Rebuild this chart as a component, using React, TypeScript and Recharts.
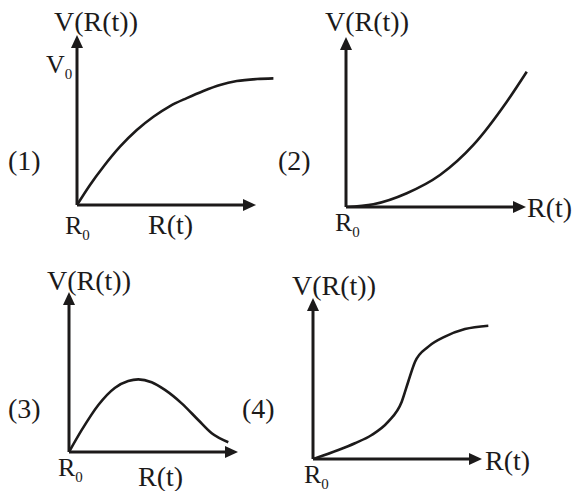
import { Line, LineChart, ReferenceLine, XAxis, YAxis } from "recharts"

// values (arbitrary units, axes run 0..10)
const r1 = [0, 0.65, 1.32, 2.15, 2.99, 3.82, 4.65, 5.49, 6.32, 7.15, 7.99, 8.99, 9.82]
const v1 = [0, 1.18, 2.25, 3.43, 4.41, 5.19, 5.82, 6.29, 6.71, 7.06, 7.29, 7.41, 7.45]

const r2 = [0, 1.37, 3.04, 4.7, 6.37, 8.04, 9.04]
const v2 = [0, 0.16, 0.81, 1.88, 3.65, 6.19, 7.96]

const r3 = [0, 0.71, 1.63, 2.56, 3.29, 3.85, 4.59, 5.33, 6.26, 7.18, 7.93, 8.85]
const v3 = [0, 1.38, 2.94, 4.02, 4.44, 4.54, 4.36, 3.88, 3.04, 2.0, 1.17, 0.61]

const r4 = [0, 1.41, 2.33, 3.26, 4.18, 4.93, 5.29, 5.67, 6.41, 7.33, 8.44, 9.74]
const v4 = [0, 0.56, 0.98, 1.49, 2.32, 3.56, 4.8, 6.04, 6.98, 7.6, 8.07, 8.28]

const xAxisEnd = [8.95, 9.0, 9.39, 9.39]
const panelNames = ["(1)", "(2)", "(3)", "(4)"]

const W = 575
const H = 491
const INK = "#1c1a1a"
const FONT = "'Liberation Serif', 'Times New Roman', serif"

const toRows = (r: number[], v: number[]) => r.map((x, i) => ({ r: x, v: v[i] }))

type Layout = {
  box: { x: number; y: number; w: number; h: number }
  title: { dx: number; dy: number }
  origin: { dx: number; dy: number }
  xLabel: { dx: number; dy: number; atTip: boolean }
  name: { dx: number; dy: number }
  v0?: { dx: number; dy: number }
}

const layouts: Layout[] = [
  {
    box: { x: 77, y: 35, w: 200, h: 170 },
    title: { dx: -23, dy: -4 },
    origin: { dx: -12, dy: 29 },
    xLabel: { dx: 71, dy: 29, atTip: false },
    name: { dx: -69, dy: -35 },
    v0: { dx: -31, dy: -132 },
  },
  {
    box: { x: 346, y: 37, w: 200, h: 170 },
    title: { dx: -21, dy: -6 },
    origin: { dx: -11, dy: 24 },
    xLabel: { dx: 1, dy: 10, atTip: true },
    name: { dx: -68, dy: -37 },
  },
  {
    box: { x: 69, y: 292, w: 180, h: 160 },
    title: { dx: -22, dy: -2 },
    origin: { dx: -11, dy: 24 },
    xLabel: { dx: 69, dy: 34, atTip: false },
    name: { dx: -61, dy: -34 },
  },
  {
    box: { x: 313, y: 298, w: 180, h: 161 },
    title: { dx: -21, dy: -3 },
    origin: { dx: -9, dy: 24 },
    xLabel: { dx: 3, dy: 11, atTip: true },
    name: { dx: -71, dy: -41 },
  },
]

const datasets = [toRows(r1, v1), toRows(r2, v2), toRows(r3, v3), toRows(r4, v4)]

const Sub = ({ x, y, main, sub, size }: { x: number; y: number; main: string; sub: string; size: number }) => (
  <text x={x} y={y} fontFamily={FONT} fontSize={size} fill={INK}>
    {main}
    <tspan fontSize={15} dy={6}>
      {sub}
    </tspan>
  </text>
)

// axis line with a filled arrow head at (x2, y2)
const arrow = (p: any) => {
  const { x1, y1, x2, y2 } = p
  const a = Math.atan2(y2 - y1, x2 - x1)
  const len = 13
  const half = 6
  const bx = x2 - len * Math.cos(a)
  const by = y2 - len * Math.sin(a)
  const pts = [
    `${x2},${y2}`,
    `${bx - half * Math.sin(a)},${by + half * Math.cos(a)}`,
    `${bx + half * Math.sin(a)},${by - half * Math.cos(a)}`,
  ].join(" ")
  return (
    <g>
      <line x1={x1} y1={y1} x2={bx} y2={by} stroke={INK} strokeWidth={3} />
      <polygon points={pts} fill={INK} />
    </g>
  )
}

const Panel = ({ idx }: { idx: number }) => {
  const lay = layouts[idx]
  const { box } = lay
  const margin = { left: box.x, top: box.y, right: W - box.x - box.w, bottom: H - box.y - box.h }

  const xShape = (p: any) => {
    const ox = p.x1
    const oy = p.y1
    const lx = lay.xLabel.atTip ? p.x2 + lay.xLabel.dx : ox + lay.xLabel.dx
    return (
      <g>
        {arrow(p)}
        <Sub x={ox + lay.origin.dx} y={oy + lay.origin.dy} main="R" sub="0" size={26} />
        <text x={lx} y={oy + lay.xLabel.dy} fontFamily={FONT} fontSize={28} fill={INK}>
          R(t)
        </text>
        <text x={ox + lay.name.dx} y={oy + lay.name.dy} fontFamily={FONT} fontSize={28} fill={INK}>
          {panelNames[idx]}
        </text>
        {lay.v0 && <Sub x={ox + lay.v0.dx} y={oy + lay.v0.dy} main="V" sub="0" size={26} />}
      </g>
    )
  }

  const yShape = (p: any) => (
    <g>
      {arrow(p)}
      <text x={p.x2 + lay.title.dx} y={p.y2 + lay.title.dy} fontFamily={FONT} fontSize={28} fill={INK}>
        V(R(t))
      </text>
    </g>
  )

  return (
    <div style={{ position: "absolute", left: 0, top: 0 }}>
      <LineChart width={W} height={H} data={datasets[idx]} margin={margin}>
        <XAxis type="number" dataKey="r" domain={[0, 10]} allowDataOverflow hide />
        <YAxis type="number" domain={[0, 10]} allowDataOverflow hide />
        <Line
          type="monotone"
          dataKey="v"
          stroke={INK}
          strokeWidth={2.6}
          dot={false}
          isAnimationActive={false}
        />
        <ReferenceLine
          segment={[
            { x: 0, y: 0 },
            { x: xAxisEnd[idx], y: 0 },
          ]}
          ifOverflow="visible"
          shape={xShape}
        />
        <ReferenceLine
          segment={[
            { x: 0, y: 0 },
            { x: 0, y: 10 },
          ]}
          ifOverflow="visible"
          shape={yShape}
        />
      </LineChart>
    </div>
  )
}

export default function App() {
  return (
    <div style={{ position: "absolute", left: 0, top: 0, width: W, height: H, background: "#fff" }}>
      {[0, 1, 2, 3].map((i) => (
        <Panel key={i} idx={i} />
      ))}
    </div>
  )
}
